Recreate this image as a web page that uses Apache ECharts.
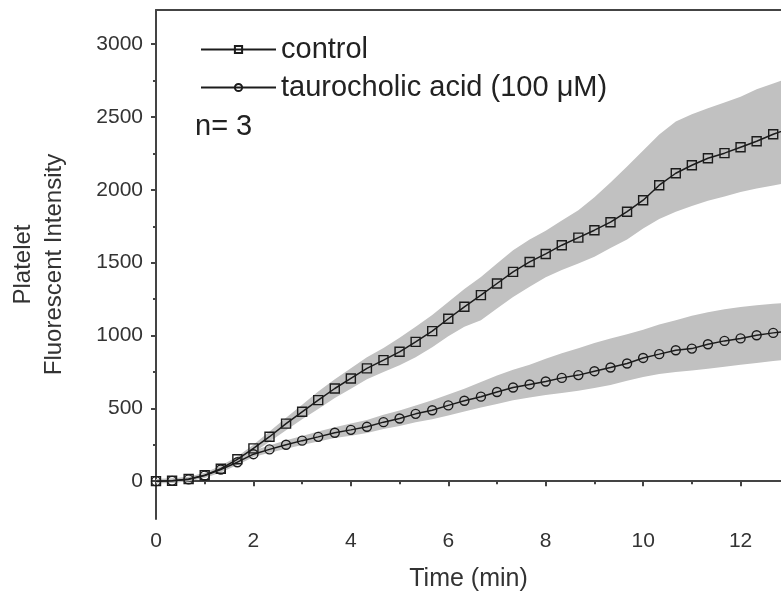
<!DOCTYPE html>
<html>
<head>
<meta charset="utf-8">
<script src="https://cdn.jsdelivr.net/npm/echarts@6/dist/echarts.min.js"></script>
<style>
  html, body { margin: 0; padding: 0; background: #fff; }
  #chart { width: 781px; height: 607px; }
</style>
</head>
<body>
<div id="chart"></div>
<script>
// sampling times (min), one reading every 20 s
const timeMin = [0, 0.33, 0.67, 1, 1.33, 1.67, 2, 2.33, 2.67, 3, 3.33, 3.67, 4, 4.33, 4.67, 5,
  5.33, 5.67, 6, 6.33, 6.67, 7, 7.33, 7.67, 8, 8.33, 8.67, 9, 9.33, 9.67, 10, 10.33, 10.67, 11,
  11.33, 11.67, 12, 12.33, 12.67, 13];

// control
const controlMean = [0, 3, 15, 40, 85, 150, 225, 305, 395, 476, 556, 636, 705, 774, 831, 888,
  956, 1030, 1115, 1197, 1277, 1357, 1437, 1505, 1560, 1620, 1672, 1723, 1778, 1850, 1929, 2032, 2114, 2169,
  2217, 2252, 2293, 2334, 2382, 2420];
const controlUpper = [15, 18, 30, 58, 105, 170, 250, 340, 435, 525, 615, 700, 775, 850, 915, 985,
  1060, 1140, 1230, 1320, 1402, 1495, 1586, 1660, 1720, 1790, 1860, 1950, 2050, 2160, 2270, 2380, 2470, 2520,
  2560, 2600, 2640, 2690, 2730, 2770];
const controlLower = [-15, -12, 2, 25, 65, 125, 195, 270, 350, 425, 495, 570, 635, 700, 750, 795,
  850, 920, 995, 1060, 1105, 1185, 1265, 1335, 1400, 1450, 1494, 1540, 1600, 1660, 1735, 1800, 1850, 1890,
  1925, 1955, 1985, 2010, 2030, 2050];

// taurocholic acid (100 µM)
const tcaMean = [0, 2, 12, 38, 80, 130, 185, 218, 250, 278, 304, 332, 352, 373, 405, 430,
  462, 487, 520, 552, 580, 612, 643, 664, 684, 709, 728, 755, 780, 808, 846, 872, 899, 910,
  940, 963, 980, 1002, 1018, 1030];
const tcaUpper = [15, 18, 28, 55, 100, 150, 210, 245, 280, 310, 340, 370, 395, 420, 455, 485,
  520, 555, 595, 635, 680, 725, 765, 800, 840, 878, 913, 948, 980, 1008, 1040, 1075, 1105, 1135,
  1160, 1180, 1195, 1208, 1218, 1225];
const tcaLower = [-15, -12, 0, 22, 60, 110, 165, 195, 222, 248, 272, 296, 312, 330, 358, 378,
  405, 425, 450, 478, 505, 530, 555, 575, 592, 606, 620, 640, 660, 690, 715, 735, 750, 760,
  772, 785, 800, 812, 825, 835];

const xMajorTicks = [0, 2, 4, 6, 8, 10, 12];
const xMinorTicks = [1, 3, 5, 7, 9, 11];
const yMajorTicks = [0, 500, 1000, 1500, 2000, 2500, 3000];
const yMinorTicks = [250, 750, 1250, 1750, 2250, 2750];

const INK = '#1c1c1c';
const AXIS = '#444';
const BAND = '#c1c1c1';
const FONT = 'Liberation Sans, Arial, sans-serif';

function pairs(ys) {
  return timeMin.map((t, i) => [t, ys[i]]);
}

// shaded spread: one polygon, upper edge forward then lower edge back
function band(up, low) {
  return {
    type: 'custom', coordinateSystem: 'cartesian2d', silent: true, z: 1,
    data: [[timeMin[0], low[0]]],
    renderItem: function (params, api) {
      const pts = [];
      for (let i = 0; i < timeMin.length; i++) pts.push(api.coord([timeMin[i], up[i]]));
      for (let i = timeMin.length - 1; i >= 0; i--) pts.push(api.coord([timeMin[i], low[i]]));
      const cs = params.coordSys;
      return {
        type: 'polygon',
        shape: { points: pts },
        style: { fill: BAND },
        clipPath: { type: 'rect', shape: { x: cs.x, y: cs.y, width: cs.width, height: cs.height } }
      };
    }
  };
}
function meanLine(name, ys, sym) {
  return {
    name: name, type: 'line', data: pairs(ys), z: 5,
    symbol: sym, symbolSize: 9,
    lineStyle: { color: INK, width: 1.5 },
    itemStyle: { color: 'rgba(0,0,0,0)', borderColor: INK, borderWidth: 1.4 }
  };
}

const chart = echarts.init(document.getElementById('chart'));
chart.setOption({
  animation: false,
  grid: { left: 156, top: 10, right: 0, bottom: 88 },
  legend: {
    data: ['control', 'taurocholic acid (100 μM)'],
    orient: 'vertical',
    left: 195, top: 30,
    itemWidth: 75, itemHeight: 9, itemGap: 9,
    textStyle: { fontSize: 29, color: '#222', fontFamily: FONT }
  },
  graphic: [{
    type: 'text', left: 195, top: 112,
    style: { text: 'n= 3', fontSize: 29, fill: '#222', fontFamily: FONT }
  }],
  xAxis: [{
    type: 'value', min: 0, max: 12.83, position: 'bottom',
    name: 'Time (min)', nameLocation: 'middle', nameGap: 48,
    nameTextStyle: { fontSize: 25, color: '#333', fontFamily: FONT },
    axisLine: { lineStyle: { color: AXIS, width: 2 } },
    axisTick: { customValues: xMajorTicks, length: 5, lineStyle: { color: AXIS, width: 2 } },
    axisLabel: { customValues: xMajorTicks, fontSize: 21, color: '#333', fontFamily: FONT, margin: 12 },
    splitLine: { show: false }
  }, {
    type: 'value', min: 0, max: 12.83, position: 'bottom',
    axisLine: { show: false },
    axisTick: { customValues: xMinorTicks, length: 3, lineStyle: { color: AXIS, width: 2 } },
    axisLabel: { show: false },
    splitLine: { show: false }
  }, {
    type: 'value', min: 0, max: 12.83, position: 'top',
    axisLine: { lineStyle: { color: AXIS, width: 2 } },
    axisTick: { show: false },
    axisLabel: { show: false },
    splitLine: { show: false }
  }],
  yAxis: [{
    type: 'value', min: -260, max: 3235,
    name: 'Platelet\nFluorescent Intensity', nameLocation: 'middle', nameGap: 86,
    nameTextStyle: { fontSize: 24, lineHeight: 31, color: '#333', fontFamily: FONT },
    axisLine: { show: true, lineStyle: { color: AXIS, width: 2 } },
    axisTick: { show: true, customValues: yMajorTicks, length: 5, lineStyle: { color: AXIS, width: 2 } },
    axisLabel: {
      customValues: yMajorTicks, fontSize: 21, color: '#333', fontFamily: FONT, margin: 13,
      formatter: v => String(v)
    },
    splitLine: { show: false }
  }, {
    type: 'value', min: -260, max: 3235, position: 'left',
    axisLine: { show: false },
    axisTick: { show: true, customValues: yMinorTicks, length: 3, lineStyle: { color: AXIS, width: 2 } },
    axisLabel: { show: false },
    splitLine: { show: false }
  }],
  series: [
    band(controlUpper, controlLower),
    band(tcaUpper, tcaLower),
    meanLine('control', controlMean, 'rect'),
    meanLine('taurocholic acid (100 μM)', tcaMean, 'circle')
  ]
});
</script>
</body>
</html>
